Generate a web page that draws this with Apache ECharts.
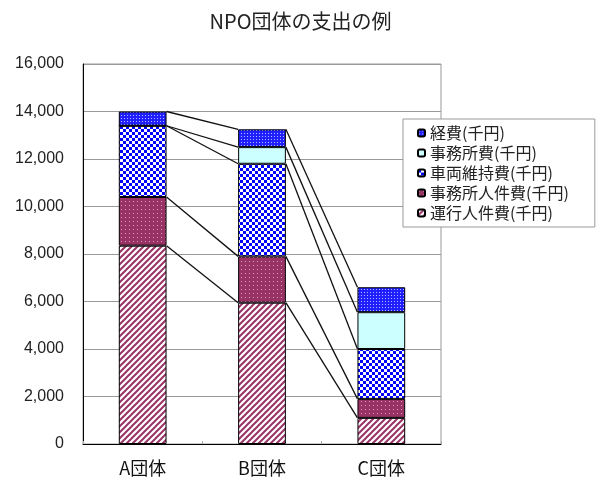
<!DOCTYPE html>
<html>
<head>
<meta charset="utf-8">
<script src="https://cdn.jsdelivr.net/npm/echarts@6/dist/echarts.min.js"></script>
<style>
  html, body { margin: 0; padding: 0; background: #fff; }
  #chart { width: 601px; height: 481px; }
</style>
</head>
<body>
<div id="chart"></div>
<script>
// Expense breakdown of three NPO groups (thousand yen)
const categories = ['A団体', 'B団体', 'C団体'];
const seriesNames = ['運行人件費(千円)', '事務所人件費(千円)', '車両維持費(千円)', '事務所費(千円)', '経費(千円)'];
const operationStaff = [8350, 5950, 1100];
const officeStaff = [2050, 1950, 800];
const vehicleUpkeep = [3000, 3900, 2100];
const officeCost = [0, 700, 1550];
const generalCost = [600, 750, 1050];
const yTicks = [0, 2000, 4000, 6000, 8000, 10000, 12000, 14000, 16000];

const stackValues = [operationStaff, officeStaff, vehicleUpkeep, officeCost, generalCost];

// Small repeating tiles used as bar fills
function tile(w, h, draw) {
  const c = document.createElement('canvas');
  c.width = w; c.height = h;
  const g = c.getContext('2d');
  draw(g, w, h);
  return { image: c, repeat: 'repeat' };
}
const stripeFill = tile(6, 6, (g, w, h) => {
  g.fillStyle = '#fff'; g.fillRect(0, 0, w, h);
  g.strokeStyle = '#993366'; g.lineWidth = 2;
  g.beginPath();
  g.moveTo(-1, 7); g.lineTo(7, -1);
  g.moveTo(-1, 1); g.lineTo(1, -1);
  g.moveTo(5, 7); g.lineTo(7, 5);
  g.stroke();
});
const dottedMaroon = tile(4, 4, (g, w, h) => {
  g.fillStyle = '#993366'; g.fillRect(0, 0, w, h);
  g.fillStyle = '#d49ab8'; g.fillRect(1, 1, 1, 1);
});
const checkerBlue = tile(6, 6, (g, w, h) => {
  g.fillStyle = '#fff'; g.fillRect(0, 0, w, h);
  g.fillStyle = '#0000ff';
  g.fillRect(0, 0, 3, 3); g.fillRect(3, 3, 3, 3);
});
const dottedBlue = tile(3, 3, (g, w, h) => {
  g.fillStyle = '#2020ff'; g.fillRect(0, 0, w, h);
  g.fillStyle = '#b8b8ff'; g.fillRect(1, 1, 1, 1);
});
const fills = [stripeFill, dottedMaroon, checkerBlue, '#ccffff', dottedBlue];

const BAR_RATIO = 0.4;

const barSeries = seriesNames.map((name, i) => ({
  name: name,
  type: 'bar',
  stack: 'total',
  barWidth: (BAR_RATIO * 100) + '%',
  data: stackValues[i],
  itemStyle: { color: fills[i], borderColor: '#000', borderWidth: 1 },
  emphasis: { disabled: true }
}));

// Series lines: join the top of every segment across neighbouring bars
const joinData = [];
for (let s = 0; s < stackValues.length; s++) {
  for (let c = 0; c < categories.length - 1; c++) {
    let top1 = 0, top2 = 0;
    for (let k = 0; k <= s; k++) { top1 += stackValues[k][c]; top2 += stackValues[k][c + 1]; }
    joinData.push([c, top1, top2]);
  }
}

const joinSeries = {
  type: 'custom',
  name: 'joins',
  silent: true,
  z: 5,
  data: joinData,
  encode: { x: 0, y: 1 },
  renderItem: function (params, api) {
    const half = api.size([1, 0])[0] * BAR_RATIO / 2;
    const p1 = api.coord([api.value(0), api.value(1)]);
    const p2 = api.coord([api.value(0) + 1, api.value(2)]);
    return {
      type: 'line',
      shape: { x1: p1[0] + half, y1: p1[1], x2: p2[0] - half, y2: p2[1] },
      style: { stroke: '#111', lineWidth: 1.3 }
    };
  }
};

const chart = echarts.init(document.getElementById('chart'), null, { renderer: 'canvas' });
chart.setOption({
  animation: false,
  backgroundColor: '#fff',
  title: {
    text: 'NPO団体の支出の例',
    left: 'center',
    top: 6,
    textStyle: { fontSize: 20, fontWeight: 'normal', color: '#222', fontFamily: 'Noto Sans CJK JP' }
  },
  legend: {
    data: seriesNames.slice().reverse(),
    orient: 'vertical',
    left: 403,
    top: 119,
    padding: [6, 26, 6, 14],
    itemGap: 4,
    itemWidth: 7,
    itemHeight: 7,
    borderColor: '#999',
    borderWidth: 1,
    backgroundColor: '#fff',
    selectedMode: false,
    textStyle: { fontSize: 16, color: '#222', fontFamily: 'Noto Sans CJK JP', lineHeight: 16 }
  },
  grid: {
    left: 83, right: 160, top: 64, bottom: 37,
    show: true, borderColor: '#999', borderWidth: 1
  },
  xAxis: {
    type: 'category',
    data: categories,
    axisLine: { lineStyle: { color: '#000', width: 1 } },
    axisTick: { show: true, inside: true, length: 3, lineStyle: { color: '#aaa' } },
    axisLabel: { fontSize: 18, color: '#111', margin: 15, fontFamily: 'Noto Sans CJK JP' }
  },
  yAxis: {
    type: 'value',
    min: yTicks[0],
    max: yTicks[yTicks.length - 1],
    interval: yTicks[1] - yTicks[0],
    axisLine: { show: true, lineStyle: { color: '#000', width: 1 } },
    axisTick: { show: false },
    splitLine: { lineStyle: { color: '#999', width: 1 } },
    axisLabel: {
      fontSize: 16, color: '#222', margin: 19, fontFamily: 'Liberation Sans',
      formatter: v => v.toLocaleString('en-US')
    }
  },
  series: barSeries.concat([joinSeries])
});
</script>
</body>
</html>
